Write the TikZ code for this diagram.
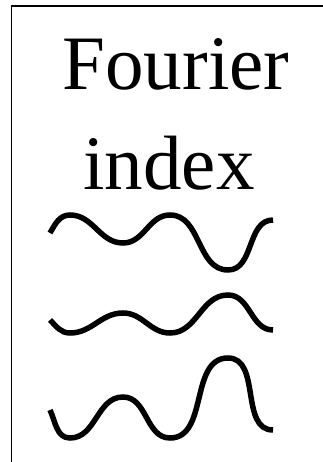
\documentclass[tikz,border=0pt]{standalone}
\usepackage{fontspec}
\setmainfont{Liberation Serif}
\usepackage{tikz}
\usetikzlibrary{calc}

\begin{document}
\begin{tikzpicture}[
    x=1pt, y=1pt,
    big/.style={font=\fontsize{77}{77}\selectfont, inner sep=0pt,
                anchor=base},
    wave/.style={line width=5.5pt, line cap=butt},
]
\useasboundingbox (0, 0) rectangle (322, 462);

% -- Frame (runs off right and bottom) --
\draw[line width=1.8pt] (11.5, -20) -- (11.5, 455.7) -- (340, 455.7);

% -- Title --
\node[big] (title1) at (176, 372) {Fourier};
\node[big] (title2) at (169, 272) {index};

% -- Waves --
\draw[wave] (50, 229) to[out=60, in=180] (70, 247)
    to[out=0, in=180] (123, 219)
    to[out=0, in=180] (170, 247)
    to[out=0, in=180] (228, 192)
    to[out=0, in=180] (273, 242);
\draw[wave] (50, 142) to[out=-45, in=180] (70, 129)
    to[out=0, in=180] (123, 149)
    to[out=0, in=180] (170, 129)
    to[out=0, in=180] (228, 167)
    to[out=0, in=180] (273, 132);
\draw[wave] (50, 52) to[out=-65, in=180] (70, 24)
    to[out=0, in=180] (123, 65)
    to[out=0, in=180] (170, 24)
    to[out=0, in=180] (228, 104)
    to[out=0, in=180] (273, 32);

\end{tikzpicture}
\end{document}
